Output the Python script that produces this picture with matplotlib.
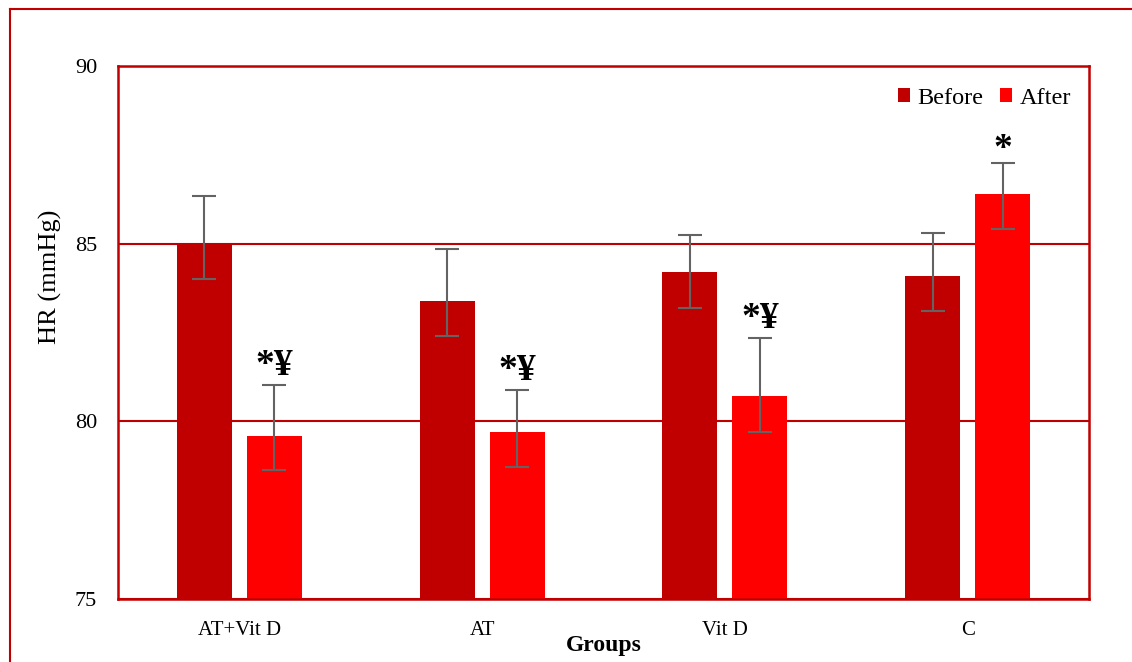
import numpy as np
import matplotlib
matplotlib.use("Agg")
import matplotlib.pyplot as plt
from matplotlib.lines import Line2D

plt.rcParams['font.family'] = ['Liberation Serif', 'DejaVu Serif']

# data
groups = ['AT+Vit D', 'AT', 'Vit D', 'C']
before = [85.0, 83.4, 84.2, 84.1]
before_hi = [86.35, 84.85, 85.24, 85.31]
before_lo = [84.01, 82.40, 83.20, 83.11]
after = [79.6, 79.7, 80.7, 86.4]
after_hi = [81.03, 80.88, 82.35, 87.26]
after_lo = [78.63, 78.72, 79.69, 85.41]
marks = ['*¥', '*¥', '*¥', '*']

red_dark = '#C00000'
red = '#FF0000'
err_col = '#636363'

fig = plt.figure(figsize=(11.32, 6.62), dpi=100)
ax = fig.add_axes([0.1042, 0.0952, 0.8578, 0.8051])

x = np.arange(len(groups))
w = 0.2266
off = 0.1442

b = np.array(before)
a = np.array(after)
b_err = [b - np.array(before_lo), np.array(before_hi) - b]
a_err = [a - np.array(after_lo), np.array(after_hi) - a]

ax.bar(x - off, b, w, bottom=0, color=red_dark, label='Before', zorder=2)
ax.bar(x + off, a, w, bottom=0, color=red, label='After', zorder=2)
ax.errorbar(x - off, b, yerr=b_err, fmt='none', ecolor=err_col, elinewidth=1.5,
            capsize=8.5, capthick=1.5, zorder=3)
ax.errorbar(x + off, a, yerr=a_err, fmt='none', ecolor=err_col, elinewidth=1.5,
            capsize=8.5, capthick=1.5, zorder=3)

#significance marks above the after bars (lone * sits a bit lower)
for i in range(len(groups)):
    dy = 1.5 if len(marks[i]) > 1 else -2.5
    ax.annotate(marks[i], (x[i] + off, after_hi[i]), xytext=(0, dy),
                textcoords='offset points', ha='center', va='bottom',
                fontsize=27, fontweight='bold', zorder=4)

ax.set_ylim(75, 90)
ax.set_xlim(-0.5, len(groups) - 0.5)
ax.set_yticks([75, 80, 85, 90])
ax.set_xticks(x)
ax.set_xticklabels(groups)
ax.tick_params(axis='both', length=0, labelsize=15)
ax.tick_params(axis='y', pad=15, labelsize=16)
ax.tick_params(axis='x', pad=16)
ax.yaxis.grid(True, color=red_dark, linewidth=1.5, zorder=0)
ax.set_axisbelow(True)
for s in ax.spines.values():
    s.set_color(red_dark)
    s.set_linewidth(1.8)

ax.set_ylabel('HR (mmHg)', fontsize=19)
ax.yaxis.set_label_coords(-0.058, 0.604)
ax.set_xlabel('Groups', fontsize=17, fontweight='bold')
ax.xaxis.set_label_coords(0.5, -0.068)

ax.legend(loc='upper right', bbox_to_anchor=(1.004, 1.0), ncol=2, frameon=False,
          fontsize=17.5, handlelength=0.5, handleheight=0.5, handletextpad=0.3,
          columnspacing=0.7)

#outer chart border (runs off the image on the right and bottom)
fig.add_artist(Line2D([0.0084, 1.0], [0.987, 0.987], color=red_dark, linewidth=1.5,
                      transform=fig.transFigure))
fig.add_artist(Line2D([0.0084, 0.0084], [0.0, 0.987], color=red_dark, linewidth=1.5,
                      transform=fig.transFigure))

plt.savefig('out.png', dpi=100)
